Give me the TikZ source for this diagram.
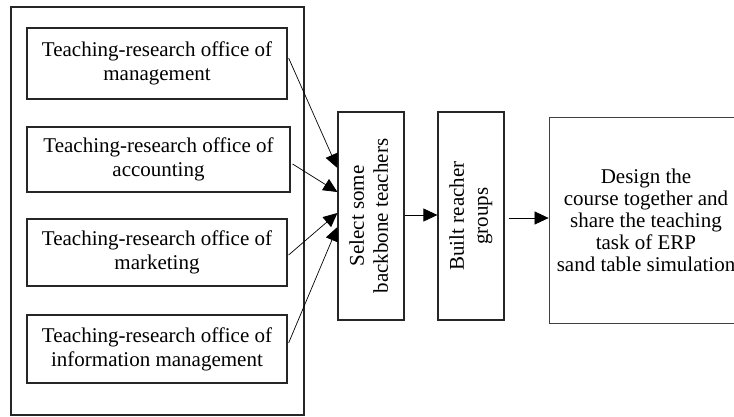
\documentclass[tikz,border=0pt]{standalone}
\usepackage{fontspec}
\setmainfont{Liberation Serif}
\usetikzlibrary{arrows.meta,calc}
\begin{document}
\begin{tikzpicture}[x=1pt,y=-1pt,
  box/.style={draw=black!85, line width=1.2pt, inner sep=0pt, align=center,
    font=\fontsize{21}{24}\selectfont},
  vbox/.style={box, minimum width=66, minimum height=208},
  link/.style={line width=0.7pt, -{Triangle[length=14pt,width=13pt]}}]
\useasboundingbox (0,0) rectangle (734,416);
\clip (0,0) rectangle (734,416);
\fill[white] (0,0) rectangle (734,416);
\node[draw=black!85, line width=1.2pt, minimum width=293, minimum height=408, inner sep=0pt] (outer) at (157.5,211) {};
\node[box, minimum width=260, minimum height=71] (m) at (157,63.5) {Teaching-research office of\\management};
\node[box, minimum width=263, minimum height=65] (a) at (158.5,159.5) {Teaching-research office of\\accounting};
\node[box, minimum width=260, minimum height=67] (k) at (157,252.5) {Teaching-research office of\\marketing};
\node[box, minimum width=260, minimum height=68] (i) at (157,349) {Teaching-research office of\\information management};
\node[vbox] (sel) at (371,216) {\rotatebox{90}{\begin{tabular}{@{}c@{}}Select some\\backbone teachers\end{tabular}}};
\node[vbox] (bui) at (471,216) {\rotatebox{90}{\begin{tabular}{@{}c@{}}Built reacher\\groups\end{tabular}}};
\node[draw=black!75, line width=0.8pt, minimum width=194, minimum height=206, inner sep=0pt, align=center,
  font=\fontsize{21}{22}\selectfont] (des) at (646,220)
  {Design the\\course together and\\share the teaching\\task of ERP\\sand table simulation};
\draw[link] ([shift={(1,-5.5)}]m.east) -- ([shift={(0,-48)}]sel.west);
\draw[link] ([shift={(2,4.5)}]a.east) -- ([shift={(0,-24)}]sel.west);
\draw[link] ([shift={(1,2.5)}]k.east) -- ([shift={(0,-3)}]sel.west);
\draw[link] ([shift={(1,-6)}]i.east) -- ([shift={(0,11)}]sel.west);
\draw[link] ([shift={(0,-1)}]sel.east) -- ([shift={(0,-1)}]bui.west);
\draw[link] ([shift={(4,2)}]bui.east) -- ([shift={(0,-2)}]des.west);
\end{tikzpicture}
\end{document}
